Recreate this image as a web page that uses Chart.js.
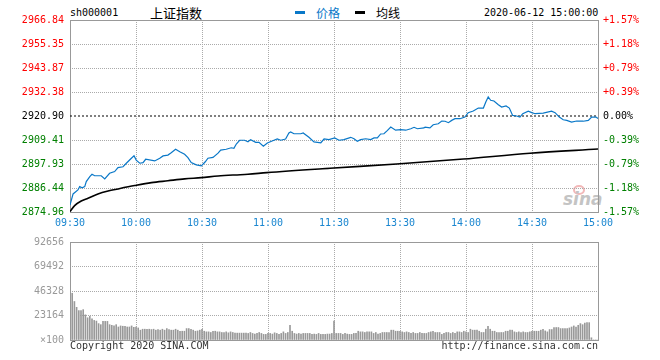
<!DOCTYPE html>
<html>
<head>
<meta charset="utf-8">
<script src="https://cdn.jsdelivr.net/npm/chart.js@4.4.0/dist/chart.umd.min.js"></script>
<style>
body { margin:0; background:#fff; width:660px; height:360px; overflow:hidden; position:relative;
       font-family:'DejaVu Sans Mono', monospace; font-size:10px; color:#000; }
.t { position:absolute; white-space:nowrap; line-height:12px; }
.cjk { font-family:'Noto Sans CJK SC', sans-serif; }
canvas { position:absolute; left:0; }
</style>
</head>
<body>
<!-- header -->
<div class="t" style="left:70px;top:7px">sh000001</div>
<div class="t cjk" style="left:150px;top:4px;font-size:13px;line-height:17px">上证指数</div>
<div style="position:absolute;left:295px;top:11px;width:10px;height:3px;background:#0a78c8"></div>
<div class="t cjk" style="left:316px;top:6px;font-size:12px;line-height:14px;color:#0a78c8">价格</div>
<div style="position:absolute;left:355px;top:11px;width:10px;height:3px;background:#000"></div>
<div class="t cjk" style="left:376px;top:6px;font-size:12px;line-height:14px">均线</div>
<div class="t" style="left:484px;top:7px">2020-06-12 15:00:00</div>

<!-- sina watermark -->
<div style="position:absolute;left:573px;top:185px;width:8px;height:6px;border:2px solid #f2b8b8;border-radius:50%"></div>
<div class="t" style="left:563px;top:191px;font:italic bold 17px 'DejaVu Sans';line-height:17px;color:#c4c4c4">sina</div>

<canvas id="main" width="660" height="230" style="top:0"></canvas>
<canvas id="vol" width="660" height="130" style="top:230px"></canvas>

<!-- footer -->
<div class="t" style="left:70px;top:340px;color:#333">Copyright 2020 SINA.COM</div>
<div class="t" style="right:62px;top:340px;color:#333">http://finance.sina.com.cn</div>

<script>
// previous close + axis labels
var prevClose = 2920.90;
var leftTicks = [2874.96, 2886.44, 2897.93, 2909.41, 2920.90, 2932.38, 2943.87, 2955.35, 2966.84];
var leftLabels = ['2874.96', '2886.44', '2897.93', '2909.41', '2920.90', '2932.38', '2943.87', '2955.35', '2966.84'];
var rightLabels = ['-1.57%', '-1.18%', '-0.79%', '-0.39%', '0.00%', '+0.39%', '+0.79%', '+1.18%', '+1.57%'];
var timeTicks = [0, 30, 60, 90, 120, 150, 180, 210, 240];
var timeLabels = ['09:30', '10:00', '10:30', '11:00', '11:30', '13:30', '14:00', '14:30', '15:00'];
var volTicks = [0, 23164, 46328, 69492, 92656];
var volLabels = ['\u00d7100', '23164', '46328', '69492', '92656'];

// price line (minute from 09:30, 11:30 and 13:00 share minute 120)
var priceMin = [0, 1.4, 3.6, 4.4, 5.5, 6.7, 7.4, 9, 10, 11.2,
  14.2, 15.8, 18, 20.3, 21.8, 24.1, 25.6, 27.9, 29.1, 30.1,
  31.7, 33.2, 34.4, 38.5, 40.8, 42.3, 44.5, 46, 48, 49.9,
  52.1, 53.6, 55.1, 57.4, 59.7, 61.5, 62.7, 65, 67.3, 68.5,
  71, 73.3, 74.5, 75.6, 77.1, 79.4, 80.9,
  82.1, 84.4, 85.9, 87.9, 89.7, 92.7, 94.2, 95.8, 98, 99.5,
  100.3, 101.8, 104.9, 106, 108.6, 110.9, 114, 115.5, 117.7, 120.3,
  122.3, 124.5, 127.6, 129.1, 130.6, 132.1, 134.4, 136.7, 138.2, 139.7,
  141.2, 142.7, 144.2, 145.8, 148, 150.3, 152.6, 154.9, 156.4, 157.9,
  160.9,
  161.4, 163.6, 165.1, 167.4, 169, 170.5, 172, 173.5, 175, 177.3,
  179.5, 181, 183.3, 185.6, 187.9, 189, 190.1, 191.2, 192.7, 194.7,
  196.2, 198.2, 199.7, 201.2, 203, 204.5, 205.8, 208.3, 209.9, 211.4,
  215.1, 218.9, 220.5, 222.4, 224.2, 225.8, 228, 230.3, 233.3, 235.6,
  237.1, 239.1, 240];
var priceVal = [2878.3, 2883.6, 2885.5, 2887.1, 2886.5, 2887.1, 2889.5, 2891.9, 2893.0, 2892.3,
  2892.3, 2890.8, 2893.5, 2894.3, 2896.2, 2896.6, 2898.3, 2900.7, 2901.9, 2899.8,
  2898.3, 2898.6, 2900.2, 2899.4, 2900.7, 2901.8, 2902.2, 2903.3, 2905.0, 2903.8,
  2902.6, 2901.0, 2898.6, 2897.5, 2897.0, 2899.0, 2900.7, 2901.1, 2903.1, 2904.6,
  2905.0, 2905.7, 2905.4, 2907.5, 2909.3, 2909.3, 2908.6,
  2909.6, 2908.3, 2908.3, 2906.4, 2908.0, 2909.3, 2909.9, 2909.3, 2909.9, 2912.8,
  2913.3, 2912.4, 2912.4, 2912.8, 2910.7, 2908.5, 2908.1, 2909.9, 2909.6, 2910.4,
  2909.3, 2909.6, 2910.7, 2910.0, 2908.8, 2909.6, 2910.0, 2909.6, 2910.4, 2910.4,
  2912.3, 2912.4, 2913.9, 2915.6, 2914.1, 2914.4, 2914.1, 2914.8, 2915.5, 2914.8,
  2915.2,
  2915.6, 2915.2, 2916.7, 2917.2, 2918.5, 2918.4, 2917.7, 2918.8, 2919.6, 2919.6,
  2920.4, 2922.5, 2923.3, 2924.7, 2924.7, 2927.6, 2930.0, 2928.4, 2928.1, 2926.3,
  2925.2, 2925.7, 2924.7, 2921.2, 2920.9, 2920.4, 2922.0, 2923.2, 2922.5, 2922.0,
  2922.3, 2923.2, 2922.5, 2920.4, 2919.1, 2918.8, 2918.0, 2918.5, 2918.4, 2918.8,
  2920.4, 2920.4, 2919.7];

// average line
var avgMin = [0, 2.1, 5.1, 8.2, 12.7, 17.3, 21.8, 29.4, 37, 44.5, 52.1, 59.7, 67.3, 74.9, 80.9, 89.4, 118.2, 148.5, 178.8, 209.1, 240];
var avgVal = [2875.2, 2878.0, 2880.2, 2881.5, 2883.6, 2885.0, 2886.0, 2887.6, 2889.0, 2889.9, 2890.8, 2891.4, 2892.2, 2892.7, 2893.0, 2893.8, 2895.9, 2897.9, 2900.3, 2903.1, 2905.1];

// volume per minute (x100)
var volume = [92656,
  44200, 36400, 30900, 27800, 27800, 28700, 23800, 21000, 22500, 20100,
  18500, 17900, 15500, 14500, 17600, 17600, 17600, 14500, 13900, 13300,
  14500, 12300, 13300, 13000, 13000, 12300, 12300, 13300, 12000, 12300, 11400,
  9300, 10200, 10200, 10200, 10200, 9900, 10200, 9300, 9900, 9300,
  10200, 9300, 10800, 9900, 9300, 9300, 10200, 9300, 8300, 8300,
  8300, 10800, 10800, 10200, 9300, 8300, 8600, 9300, 10200,
  8300, 7700, 7700, 7100, 8300, 8300, 7700, 7700, 7100, 7100,
  7700, 6800, 7700, 7100, 6500, 6500, 6500, 6500, 6500, 6500,
  6200, 7100, 6200, 5600, 6200, 7100, 6200, 5300, 5300, 6200,
  6200, 5600, 6800, 6200, 5300, 6200, 7700, 6200, 7100,
  13900, 8300,
  6200, 5600, 6200, 5600, 6200, 6200, 6200, 6200, 5300, 5600,
  5300, 6200, 5300, 5300, 5300, 5600, 5600, 6200,
  17900,
  6200, 6200, 6200, 5300, 6200, 5600, 5300, 5300, 6200, 6200,
  8300,
  7700, 7700, 7100, 7700, 7700, 7700, 6200, 7100, 5600,
  6200, 7100, 7100, 7100, 7100, 9300, 9300, 8300,
  8300, 8300, 7700, 7100, 7700, 7100, 6200, 7100, 6200, 6200, 7100, 6200,
  6200, 6200, 7100, 7700, 8300, 7100, 7100, 7100,
  5300, 6200, 7100, 7100, 6200, 7100,
  6200, 7700, 7700, 7100, 8300, 7700, 7100,
  10200, 9300,
  9300, 9300, 8300, 7100, 7100,
  10200, 13000, 10200,
  8300, 8300, 7100, 7100, 7100, 7100,
  8300, 8300, 9300, 9300, 7700,
  7100, 7700, 7100, 7700, 7100, 7100, 7700,
  8300, 8300, 8300, 8300,
  9300, 10200, 8600, 7700, 9900, 9900,
  11800, 11800, 11800, 10800, 10800,
  10800, 10800, 11400, 12300,
  13300, 12300, 13900, 15500, 14500, 16000, 16400, 16400,
  2100,
  0, 0, 0];

var mono = "'DejaVu Sans Mono', monospace";
Chart.defaults.font.family = mono;
Chart.defaults.font.size = 10;

function pct(v) { return (v - prevClose) / prevClose * 100; }
function sideColor(c) { return c.index < 4 ? '#008000' : (c.index === 4 ? '#000' : '#ff0000'); }

// gray frame round the plot area
var frame = {
  id: 'frame',
  beforeDatasetsDraw: function (chart) {
    var a = chart.chartArea, ctx = chart.ctx;
    ctx.save();
    ctx.strokeStyle = '#999';
    ctx.lineWidth = 1;
    ctx.strokeRect(Math.round(a.left) + 0.5, Math.round(a.top) + 0.5, Math.round(a.right - a.left), Math.round(a.bottom - a.top));
    ctx.restore();
  }
};

new Chart(document.getElementById('main'), {
  type: 'line',
  data: {
    datasets: [{
      data: priceMin.map(function (m, i) { return { x: m, y: priceVal[i] }; }),
      borderColor: '#0a78c8', borderWidth: 1.2, pointRadius: 0
    }, {
      data: avgMin.map(function (m, i) { return { x: m, y: avgVal[i] }; }),
      borderColor: '#000', borderWidth: 1.6, pointRadius: 0, cubicInterpolationMode: 'monotone'
    }, {
      data: [{ x: 0, y: prevClose }, { x: 240, y: prevClose }],
      borderColor: '#000', borderWidth: 1, borderDash: [2, 2], pointRadius: 0
    }]
  },
  options: {
    responsive: false, animation: false, events: [],
    layout: { padding: { top: 20, left: 0, right: 0, bottom: 0 } },
    plugins: { legend: { display: false }, tooltip: { enabled: false } },
    scales: {
      x: {
        type: 'linear', min: 0, max: 240,
        afterBuildTicks: function (s) { s.ticks = timeTicks.map(function (v) { return { value: v }; }); },
        afterFit: function (s) { s.height = 18; },
        grid: { color: '#aaa', drawTicks: false },
        border: { display: false, dash: [1, 1] },
        ticks: { padding: 5, color: '#1a86d0', maxRotation: 0, autoSkip: false,
                 callback: function (v, i) { return timeLabels[i]; } }
      },
      y: {
        position: 'left', min: leftTicks[0], max: leftTicks[8],
        afterBuildTicks: function (s) { s.ticks = leftTicks.map(function (v) { return { value: v }; }); },
        afterFit: function (s) { s.width = 70; },
        grid: { color: function (c) { return c.index === 4 ? 'rgba(0,0,0,0)' : '#aaa'; }, drawTicks: false },
        border: { display: false, dash: [1, 1] },
        ticks: { padding: 6, color: sideColor, autoSkip: false,
                 callback: function (v, i) { return leftLabels[i]; } }
      },
      y2: {
        position: 'right', min: pct(leftTicks[0]), max: pct(leftTicks[8]),
        afterBuildTicks: function (s) { s.ticks = leftTicks.map(function (v) { return { value: pct(v) }; }); },
        afterFit: function (s) { s.width = 62; },
        grid: { display: false, drawTicks: false },
        border: { display: false },
        ticks: { padding: 5, color: sideColor, autoSkip: false,
                 callback: function (v, i) { return rightLabels[i]; } }
      }
    }
  },
  plugins: [frame]
});

new Chart(document.getElementById('vol'), {
  type: 'bar',
  data: {
    datasets: [{
      data: volume.map(function (v, i) { return { x: i, y: v }; }),
      backgroundColor: '#999', borderWidth: 0, barThickness: 1
    }]
  },
  options: {
    responsive: false, animation: false, events: [],
    layout: { padding: { top: 10, right: 62, bottom: 20, left: 0 } },
    plugins: { legend: { display: false }, tooltip: { enabled: false } },
    scales: {
      x: {
        type: 'linear', min: 0, max: 240, offset: false,
        afterBuildTicks: function (s) { s.ticks = timeTicks.map(function (v) { return { value: v }; }); },
        afterFit: function (s) { s.height = 0; },
        grid: { color: '#aaa', drawTicks: false, offset: false },
        border: { display: false, dash: [1, 1] },
        ticks: { display: false }
      },
      y: {
        min: 0, max: 92656,
        afterBuildTicks: function (s) { s.ticks = volTicks.map(function (v) { return { value: v }; }); },
        afterFit: function (s) { s.width = 70; },
        grid: { color: '#aaa', drawTicks: false },
        border: { display: false, dash: [1, 1] },
        ticks: { padding: 6, color: '#999', autoSkip: false,
                 callback: function (v, i) { return volLabels[i]; } }
      }
    }
  },
  plugins: [frame]
});
</script>
</body>
</html>
